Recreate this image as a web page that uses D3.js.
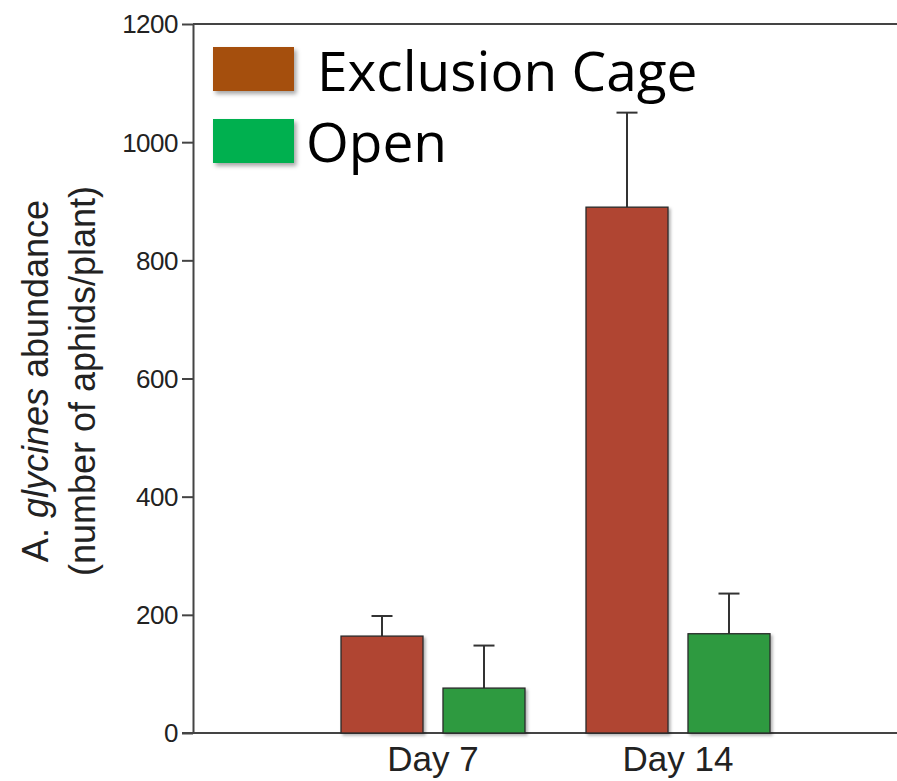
<!DOCTYPE html>
<html>
<head>
<meta charset="utf-8">
<script src="https://cdn.jsdelivr.net/npm/d3@7"></script>
<style>
  html, body { margin: 0; padding: 0; background: #fff; }
  svg { display: block; }
</style>
</head>
<body>
<svg id="chart" width="897" height="781"></svg>
<script>
// Aphid counts per plant by sampling day and treatment
const days = ["Day 7", "Day 14"];
const series = ["Exclusion Cage", "Open"];
const exclusionMeans = [164, 890];
const exclusionErrTops = [198, 1050];
const openMeans = [76, 168];
const openErrTops = [148, 236];
const yTicks = [0, 200, 400, 600, 800, 1000, 1200];

const barColors = { "Exclusion Cage": "#b04433", "Open": "#2e9a40" };
const legendColors = { "Exclusion Cage": "#a5500f", "Open": "#00b050" };

const rows = days.map((d, i) => ({
  day: d,
  bars: [
    { series: "Exclusion Cage", value: exclusionMeans[i], top: exclusionErrTops[i] },
    { series: "Open", value: openMeans[i], top: openErrTops[i] }
  ]
}));

const svg = d3.select("#chart");
const W = 897;
const plotLeft = 193, plotTop = 24, plotBottom = 733;

const defs = svg.append("defs");
defs.append("filter").attr("id", "barShadow")
  .attr("x", "-10%").attr("y", "-10%").attr("width", "130%").attr("height", "130%")
  .append("feDropShadow")
  .attr("dx", 2).attr("dy", 2).attr("stdDeviation", 1.5)
  .attr("flood-color", "#000").attr("flood-opacity", 0.3);
defs.append("filter").attr("id", "legShadow")
  .attr("x", "-20%").attr("y", "-20%").attr("width", "150%").attr("height", "160%")
  .append("feDropShadow")
  .attr("dx", 2.5).attr("dy", 3).attr("stdDeviation", 2)
  .attr("flood-color", "#000").attr("flood-opacity", 0.35);

const y = d3.scaleLinear().domain([0, 1200]).range([plotBottom, plotTop]);
const x0 = d3.scaleBand().domain(days).range([218.5, 892.5])
  .paddingInner(0.249).paddingOuter(0.5);
const x1 = d3.scaleBand().domain(series).range([0, x0.bandwidth()])
  .paddingInner(0.196).paddingOuter(0);

const axisFont = "'Liberation Sans', Arial, Helvetica, sans-serif";

// frame: top rule and baseline
svg.append("line")
  .attr("x1", plotLeft).attr("x2", W).attr("y1", y(1200)).attr("y2", y(1200))
  .attr("stroke", "#444").attr("stroke-width", 2);
svg.append("line")
  .attr("x1", plotLeft - 11).attr("x2", W).attr("y1", y(0)).attr("y2", y(0))
  .attr("stroke", "#444").attr("stroke-width", 2);

// y axis
const yAxis = svg.append("g")
  .attr("transform", `translate(${plotLeft},0)`)
  .call(d3.axisLeft(y).tickValues(yTicks).tickFormat(d3.format("d"))
    .tickSize(11).tickSizeOuter(0).tickPadding(4));
yAxis.select(".domain").attr("stroke", "#444").attr("stroke-width", 2);
yAxis.selectAll(".tick line").attr("stroke", "#444").attr("stroke-width", 2);
yAxis.selectAll(".tick text")
  .attr("font-family", axisFont).attr("font-size", 26).attr("fill", "#222")
  .attr("letter-spacing", "-0.5").attr("dy", "0.34em");

// x axis labels
const xAxis = svg.append("g")
  .attr("transform", `translate(0,${plotBottom})`)
  .call(d3.axisBottom(x0).tickSize(0).tickPadding(13));
xAxis.select(".domain").remove();
xAxis.selectAll(".tick text")
  .attr("font-family", axisFont).attr("font-size", 35).attr("fill", "#222")
  .attr("dy", "0.71em");

// y axis title
const title = svg.append("text")
  .attr("transform", "translate(48,381) rotate(-90)")
  .attr("text-anchor", "middle")
  .attr("font-family", axisFont).attr("font-size", 36).attr("fill", "#222");
const line1 = title.append("tspan").attr("x", 0).attr("y", 0);
line1.append("tspan").text("A. ");
line1.append("tspan").attr("font-style", "italic").text("glycines");
line1.append("tspan").text(" abundance");
title.append("tspan").attr("x", 0).attr("y", 47).text("(number of aphids/plant)");

// bars and error bars
const groups = svg.append("g").selectAll("g.group")
  .data(rows).join("g")
  .attr("class", "group")
  .attr("transform", d => `translate(${x0(d.day)},0)`);

groups.selectAll("line.err")
  .data(d => d.bars).join("line")
  .attr("class", "err")
  .attr("x1", d => x1(d.series) + x1.bandwidth() / 2)
  .attr("x2", d => x1(d.series) + x1.bandwidth() / 2)
  .attr("y1", d => y(d.value)).attr("y2", d => y(d.top))
  .attr("stroke", "#333").attr("stroke-width", 2);
groups.selectAll("line.cap")
  .data(d => d.bars).join("line")
  .attr("class", "cap")
  .attr("x1", d => x1(d.series) + x1.bandwidth() / 2 - 10.5)
  .attr("x2", d => x1(d.series) + x1.bandwidth() / 2 + 10.5)
  .attr("y1", d => y(d.top)).attr("y2", d => y(d.top))
  .attr("stroke", "#333").attr("stroke-width", 2);

groups.selectAll("rect.bar")
  .data(d => d.bars).join("rect")
  .attr("class", "bar")
  .attr("x", d => x1(d.series))
  .attr("width", x1.bandwidth())
  .attr("y", d => y(d.value))
  .attr("height", d => y(0) - y(d.value))
  .attr("fill", d => barColors[d.series])
  .attr("stroke", "#2a2a2a").attr("stroke-width", 1.3)
  .attr("filter", "url(#barShadow)");

// legend
const legend = svg.append("g");
const legendRows = [
  { series: "Exclusion Cage", ry: 47, tx: 317, ty: 91 },
  { series: "Open", ry: 119, tx: 306, ty: 162 }
];
legend.selectAll("rect")
  .data(legendRows).join("rect")
  .attr("x", 213).attr("y", d => d.ry)
  .attr("width", 81).attr("height", 44)
  .attr("fill", d => legendColors[d.series])
  .attr("filter", "url(#legShadow)");
legend.selectAll("text")
  .data(legendRows).join("text")
  .attr("x", d => d.tx).attr("y", d => d.ty)
  .attr("font-family", "'Open Sans', 'Noto Sans', sans-serif")
  .attr("font-size", 55).attr("fill", "#000")
  .text(d => d.series);
</script>
</body>
</html>
